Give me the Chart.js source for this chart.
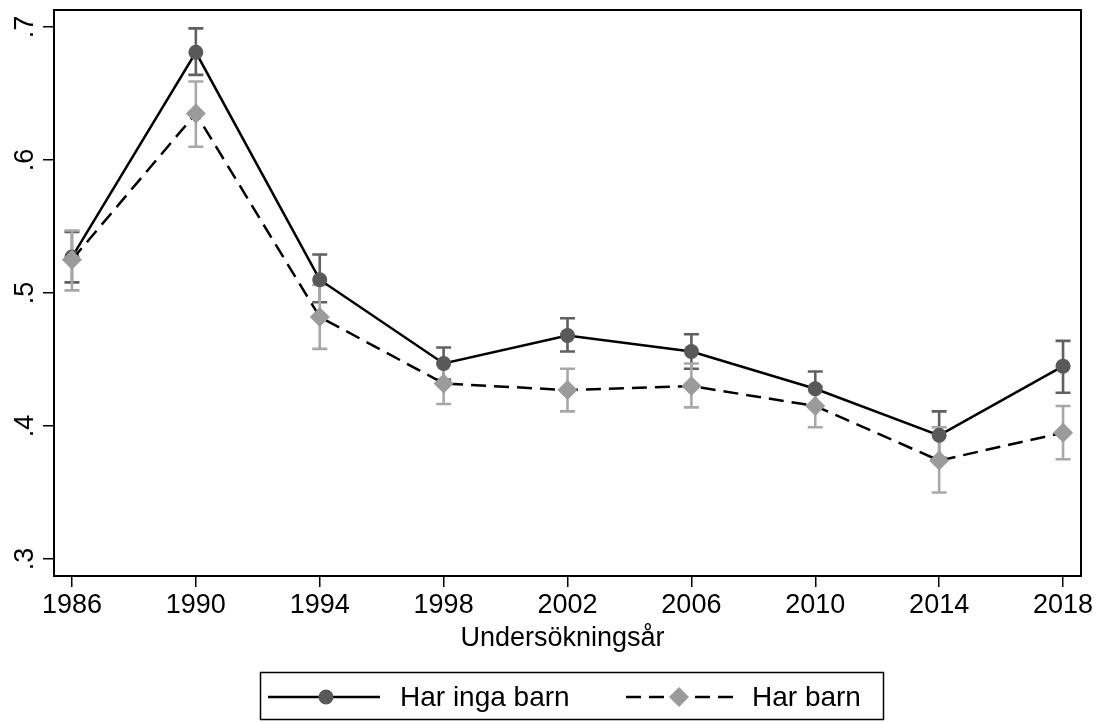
<!DOCTYPE html>
<html>
<head>
<meta charset="utf-8">
<script src="https://cdn.jsdelivr.net/npm/chart.js@4/dist/chart.umd.min.js"></script>
<style>
  html, body { margin: 0; padding: 0; background: #fff; }
  #wrap { width: 1099px; height: 722px; }
</style>
</head>
<body>
<div id="wrap"><canvas id="c" width="1099" height="722"></canvas></div>
<script>
// ---- data ----
const years = [1986, 1990, 1994, 1998, 2002, 2006, 2010, 2014, 2018];
const noKids   = [0.527, 0.681, 0.510, 0.447, 0.468, 0.456, 0.428, 0.393, 0.445];
const noKidsLo = [0.508, 0.664, 0.493, 0.435, 0.456, 0.443, 0.415, 0.376, 0.425];
const noKidsHi = [0.546, 0.699, 0.529, 0.459, 0.481, 0.469, 0.441, 0.411, 0.464];
const kids   = [0.525, 0.635, 0.482, 0.432, 0.427, 0.430, 0.415, 0.374, 0.395];
const kidsLo = [0.502, 0.610, 0.458, 0.4165, 0.411, 0.414, 0.399, 0.350, 0.375];
const kidsHi = [0.547, 0.659, 0.506, 0.447, 0.443, 0.447, 0.430, 0.399, 0.415];
const yTicks = [0.3, 0.4, 0.5, 0.6, 0.7];
const yTickLabels = ['.3', '.4', '.5', '.6', '.7'];
const seriesNames = ['Har inga barn', 'Har barn'];
const xTitle = 'Undersökningsår';

const FONT = '"Liberation Sans", Arial, Helvetica, sans-serif';
const DARK_MARK = '#595959', DARK_BAR = '#606060';
const LIGHT_MARK = '#9b9b9b', LIGHT_BAR = '#a8a8a8';

const errorBars = {
  id: 'errorBars',
  beforeDatasetsDraw(chart) {
    const ctx = chart.ctx, xs = chart.scales.x, ys = chart.scales.y;
    const sets = [[noKidsLo, noKidsHi, DARK_BAR], [kidsLo, kidsHi, LIGHT_BAR]];
    ctx.save();
    ctx.lineWidth = 2.6;
    ctx.lineCap = 'butt';
    sets.forEach(([lo, hi, col]) => {
      ctx.strokeStyle = col;
      years.forEach((yr, i) => {
        const x = xs.getPixelForValue(yr);
        const y1 = ys.getPixelForValue(lo[i]);
        const y2 = ys.getPixelForValue(hi[i]);
        ctx.beginPath();
        ctx.moveTo(x, y1); ctx.lineTo(x, y2);
        ctx.moveTo(x - 7.5, y1); ctx.lineTo(x + 7.5, y1);
        ctx.moveTo(x - 7.5, y2); ctx.lineTo(x + 7.5, y2);
        ctx.stroke();
      });
    });
    ctx.restore();
  }
};

const frameAndLabels = {
  id: 'frameAndLabels',
  afterDraw(chart) {
    const ctx = chart.ctx, a = chart.chartArea, ys = chart.scales.y;
    ctx.save();
    // frame
    ctx.strokeStyle = '#000';
    ctx.lineWidth = 2;
    ctx.strokeRect(a.left, a.top, a.right - a.left, a.bottom - a.top);
    // rotated y tick labels
    ctx.fillStyle = '#000';
    ctx.font = '27px ' + FONT;
    ctx.textAlign = 'center';
    ctx.textBaseline = 'alphabetic';
    yTicks.forEach((v, i) => {
      const py = ys.getPixelForValue(v);
      ctx.save();
      ctx.translate(33, py);
      ctx.rotate(-Math.PI / 2);
      ctx.fillText(yTickLabels[i], 0, 0);
      ctx.restore();
    });
    // x axis title
    ctx.textAlign = 'center';
    ctx.textBaseline = 'alphabetic';
    ctx.fillText(xTitle, (a.left + a.right) / 2 - 5, 646);
    // legend
    const L = 260.5, T = 672.5, W = 623, H = 47;
    ctx.lineWidth = 1.5;
    ctx.strokeRect(L, T, W, H);
    const cy = 697;
    ctx.strokeStyle = '#000';
    ctx.lineWidth = 2.5;
    // item 1: solid line + circle
    ctx.beginPath(); ctx.moveTo(268, cy); ctx.lineTo(380, cy); ctx.stroke();
    ctx.fillStyle = DARK_MARK;
    ctx.beginPath(); ctx.arc(326, cy, 7.5, 0, Math.PI * 2); ctx.fill();
    // item 2: dashed line + diamond
    ctx.setLineDash([15, 8]);
    ctx.beginPath(); ctx.moveTo(626, cy); ctx.lineTo(734, cy); ctx.stroke();
    ctx.setLineDash([]);
    ctx.fillStyle = LIGHT_MARK;
    ctx.beginPath();
    ctx.moveTo(679, cy - 10); ctx.lineTo(689, cy); ctx.lineTo(679, cy + 10); ctx.lineTo(669, cy);
    ctx.closePath(); ctx.fill();
    ctx.fillStyle = '#000';
    ctx.font = '28px ' + FONT;
    ctx.textAlign = 'left';
    ctx.textBaseline = 'middle';
    ctx.fillText(seriesNames[0], 400, cy + 1);
    ctx.fillText(seriesNames[1], 752, cy + 1);
    ctx.restore();
  }
};

new Chart(document.getElementById('c'), {
  type: 'line',
  data: {
    datasets: [
      {
        label: seriesNames[0],
        data: years.map((x, i) => ({ x, y: noKids[i] })),
        borderColor: '#000', borderWidth: 2.5,
        pointStyle: 'circle', pointRadius: 7.5, pointBorderWidth: 0,
        pointBackgroundColor: DARK_MARK, pointBorderColor: DARK_MARK,
        order: 1, tension: 0
      },
      {
        label: seriesNames[1],
        data: years.map((x, i) => ({ x, y: kids[i] })),
        borderColor: '#000', borderWidth: 2.5, borderDash: [15, 8],
        pointStyle: 'rectRot', pointRadius: 10, pointBorderWidth: 0,
        pointBackgroundColor: LIGHT_MARK, pointBorderColor: LIGHT_MARK,
        order: 0, tension: 0
      }
    ]
  },
  options: {
    responsive: false,
    animation: false,
    devicePixelRatio: 1,
    layout: { padding: { top: 10, right: 18, left: 0, bottom: 0 } },
    plugins: { legend: { display: false }, tooltip: { enabled: false }, title: { display: false } },
    scales: {
      x: {
        type: 'linear',
        min: 1985.42, max: 2018.58,
        afterBuildTicks: s => { s.ticks = years.map(v => ({ value: v })); },
        afterFit: s => { s.height = 146; },
        border: { display: false },
        grid: { drawOnChartArea: false, drawTicks: true, tickLength: 11, color: '#000', lineWidth: 1.5 },
        ticks: {
          color: '#000', font: { family: FONT, size: 27 }, padding: 2,
          maxRotation: 0, autoSkip: false,
          callback: v => String(v)
        },
        title: { display: false }
      },
      y: {
        type: 'linear',
        min: 0.2872, max: 0.7128,
        afterBuildTicks: s => { s.ticks = yTicks.map(v => ({ value: v })); },
        afterFit: s => { s.width = 54; },
        border: { display: false },
        grid: { drawOnChartArea: false, drawTicks: true, tickLength: 11, color: '#000', lineWidth: 1.5 },
        ticks: { display: false }
      }
    }
  },
  plugins: [errorBars, frameAndLabels]
});
</script>
</body>
</html>
